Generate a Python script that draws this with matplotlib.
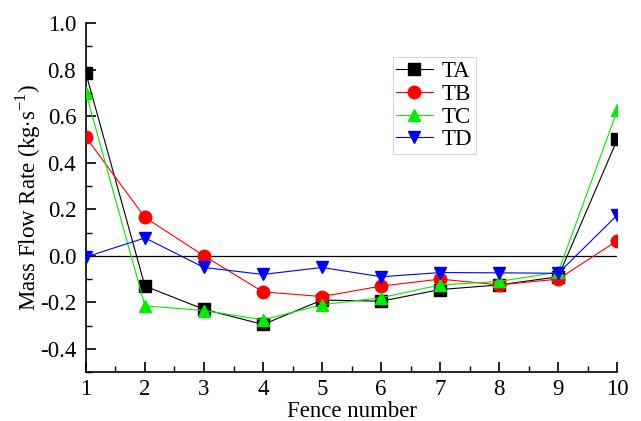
import numpy as np
import matplotlib
matplotlib.use("Agg")
import matplotlib.pyplot as plt
from matplotlib.ticker import MultipleLocator

plt.rcParams['font.family'] = ['Liberation Serif', 'DejaVu Serif']
plt.rcParams['mathtext.fontset'] = 'custom'
plt.rcParams['mathtext.rm'] = 'Liberation Serif'
plt.rcParams['axes.unicode_minus'] = False

# data
fence = [1, 2, 3, 4, 5, 6, 7, 8, 9, 10]
ta = [0.785, -0.13, -0.23, -0.295, -0.19, -0.195, -0.145, -0.125, -0.09, 0.50]
tb = [0.51, 0.165, 0.0, -0.155, -0.175, -0.13, -0.10, -0.125, -0.10, 0.065]
tc = [0.70, -0.215, -0.235, -0.275, -0.21, -0.18, -0.125, -0.11, -0.07, 0.625]
td = [-0.005, 0.077, -0.05, -0.08, -0.05, -0.09, -0.072, -0.073, -0.075, 0.175]

fig = plt.figure(figsize=(6.41, 4.21), dpi=100)
ax = fig.add_axes([0.134, 0.116, 0.829, 0.829])

ax.axhline(0, color='black', lw=0.9, zorder=1)

series = [("TA", ta, 'black', 's', 8),
          ("TB", tb, 'red', 'o', 9),
          ("TC", tc, '#00ee00', '^', 9),
          ("TD", td, 'blue', 'v', 9)]
for name, vals, col, mk, ms in series:
    ax.plot(fence, vals, color=col, lw=0.8, marker=mk, markersize=ms,
            markerfacecolor=col, markeredgecolor=col, label=name, zorder=3)

ax.set_xlim(1, 10)
ax.set_ylim(-0.5, 1.0)
ax.xaxis.set_major_locator(MultipleLocator(1))
ax.xaxis.set_minor_locator(MultipleLocator(0.5))
ax.yaxis.set_minor_locator(MultipleLocator(0.1))
ax.set_yticks([-0.4, -0.2, 0.0, 0.2, 0.4, 0.6, 0.8, 1.0])
ax.set_yticklabels(["-0.4", "-0.2", "0.0", "0.2", "0.4", "0.6", "0.8", "1.0"])

ax.spines['top'].set_visible(False)
ax.spines['right'].set_visible(False)
for s in ('left', 'bottom'):
    ax.spines[s].set_linewidth(1.2)

ax.tick_params(which='major', direction='in', length=7, width=1.2,
               labelsize=16.5, pad=7)
ax.tick_params(axis='x', which='major', pad=5)
ax.tick_params(which='minor', direction='in', length=4, width=1.0)

ax.set_xlabel("Fence number", fontsize=16.5, labelpad=0.5)
ax.set_ylabel("Mass Flow Rate (kg$\\cdot$s$^{-1}$)", fontsize=16.5, labelpad=-2)

leg = ax.legend(loc='upper left', bbox_to_anchor=(0.577, 0.902), fontsize=16.5,
                frameon=True, fancybox=False, edgecolor='#cccccc',
                borderpad=0.15, labelspacing=0.08, handlelength=1.6,
                handletextpad=0.4, borderaxespad=0)
leg.get_frame().set_linewidth(0.8)

fig.savefig("out.png", dpi=100)
